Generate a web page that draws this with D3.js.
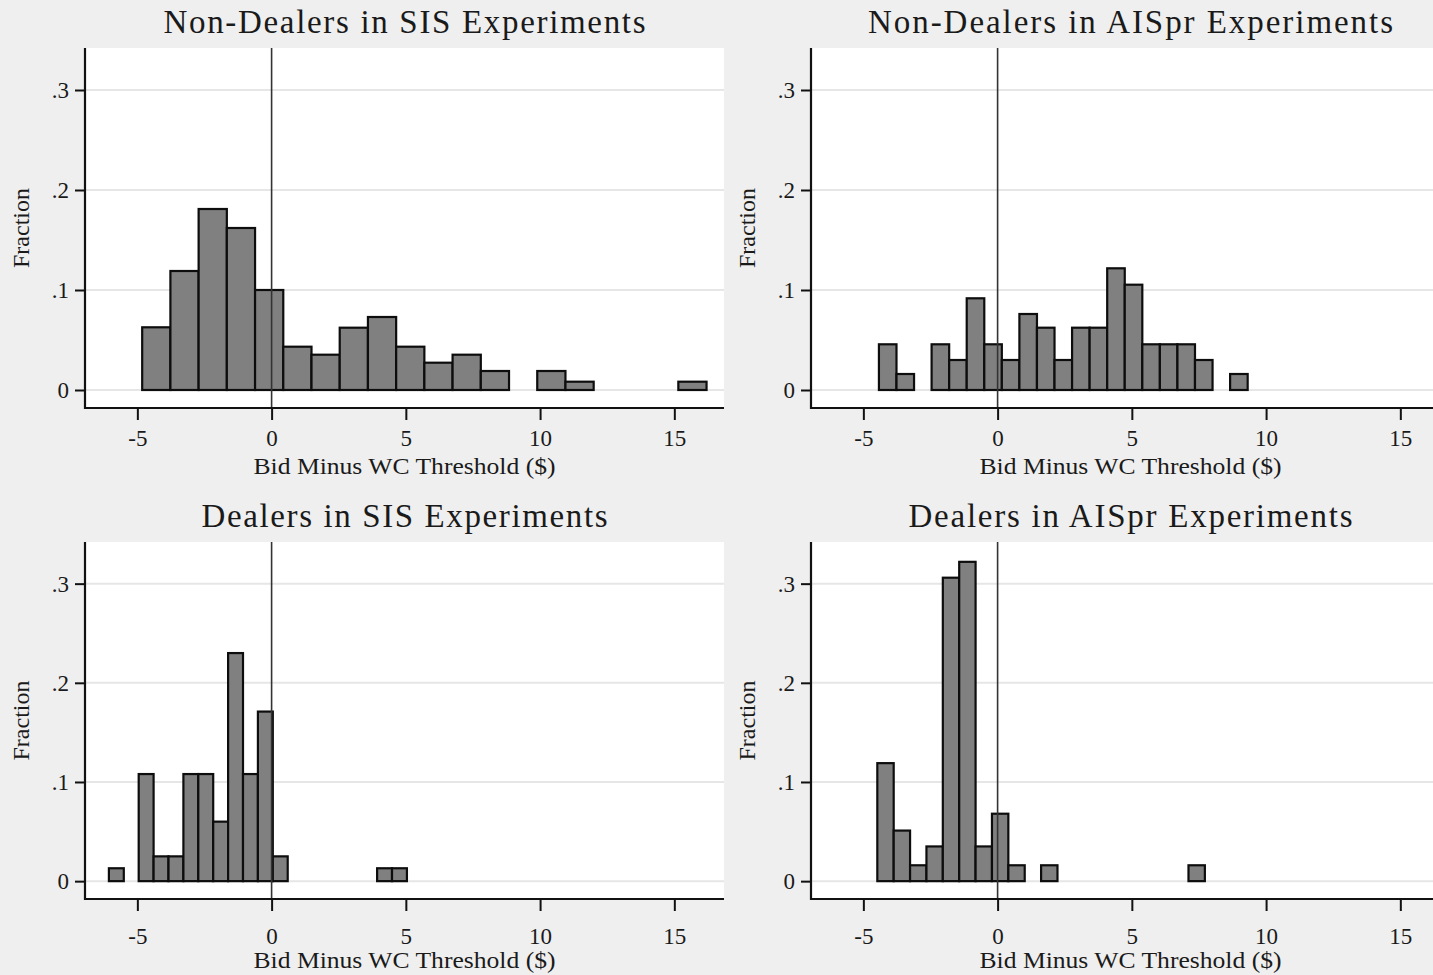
<!DOCTYPE html>
<html>
<head>
<meta charset="utf-8">
<script src="https://cdn.jsdelivr.net/npm/d3@7"></script>
<style>
  body { margin: 0; background: #efefef; }
  svg { display: block; }
  text { font-family: "Liberation Serif", "DejaVu Serif", serif; fill: #1a1a1a; }
</style>
</head>
<body>
<div id="chart"></div>
<script>
// values
var panelTitles = ["Non-Dealers in SIS Experiments", "Non-Dealers in AISpr Experiments",
                   "Dealers in SIS Experiments", "Dealers in AISpr Experiments"];
var xTitle = "Bid Minus WC Threshold ($)";
var yTitle = "Fraction";
var xTicks = [-5, 0, 5, 10, 15];
var yTicks = [0, 0.1, 0.2, 0.3];
var yTickLabels = ["0", ".1", ".2", ".3"];

// bin start, bin width and fraction per bin for each panel
var ndSisStart = -4.82, ndSisWidth = 1.051;
var ndSisFrac = [0.0627, 0.119, 0.181, 0.162, 0.100, 0.0433, 0.0353, 0.0623, 0.073, 0.0433,
                 0.0273, 0.0353, 0.019, 0, 0.019, 0.0083, 0, 0, 0, 0.0083];

var ndAisStart = -4.42, ndAisWidth = 0.654;
var ndAisFrac = [0.0457, 0.016, 0, 0.0457, 0.030, 0.0917, 0.0457, 0.030, 0.076, 0.0623, 0.030,
                 0.0623, 0.0623, 0.1217, 0.1053, 0.0457, 0.0457, 0.0457, 0.030, 0, 0.016];

var dSisStart = -6.06, dSisWidth = 0.555;
var dSisFrac = [0.013, 0, 0.108, 0.025, 0.025, 0.108, 0.108, 0.060, 0.230, 0.108,
                0.171, 0.025, 0, 0, 0, 0, 0, 0, 0.013, 0.013];

var dAisStart = -4.48, dAisWidth = 0.61;
var dAisFrac = [0.119, 0.051, 0.016, 0.035, 0.306, 0.322, 0.035, 0.068, 0.016, 0,
                0.016, 0, 0, 0, 0, 0, 0, 0, 0, 0.016];

var w = 1433, h = 975;
var svg = d3.select("#chart").append("svg").attr("width", w).attr("height", h);

// layout of the four panels
var cols = [85, 811];
var plotW = 639;
var rows = [{top: 48, axis: 408, titleY: 33, tickDy: 38, labDy: 66},
            {top: 542, axis: 899, titleY: 527, tickDy: 45, labDy: 69}];
var titleLens = [482, 525, 406, 444];

var panels = [
  {start: ndSisStart, width: ndSisWidth, frac: ndSisFrac},
  {start: ndAisStart, width: ndAisWidth, frac: ndAisFrac},
  {start: dSisStart, width: dSisWidth, frac: dSisFrac},
  {start: dAisStart, width: dAisWidth, frac: dAisFrac}
];

panels.forEach(function(p, i) {
  var left = cols[i % 2];
  var row = rows[Math.floor(i / 2)];

  var x = d3.scaleLinear().domain([-6.95, 16.85]).range([left, left + plotW]);
  var y = d3.scaleLinear().domain([-0.018, 0.342]).range([row.axis, row.top]);

  var g = svg.append("g");

  g.append("rect")
    .attr("x", left).attr("y", row.top)
    .attr("width", plotW).attr("height", row.axis - row.top)
    .attr("fill", "#fff");

  // grid
  g.selectAll(".grid")
    .data(yTicks)
    .enter()
    .append("line")
    .attr("x1", left).attr("x2", left + plotW)
    .attr("y1", function(d) { return y(d); })
    .attr("y2", function(d) { return y(d); })
    .attr("stroke", "#e6e6e6")
    .attr("stroke-width", 2);

  var bins = p.frac.map(function(f, k) {
    return {x0: p.start + k * p.width, x1: p.start + (k + 1) * p.width, f: f};
  }).filter(function(b) { return b.f > 0; });

  g.selectAll(".bar")
    .data(bins)
    .enter()
    .append("rect")
    .attr("x", function(d) { return x(d.x0); })
    .attr("y", function(d) { return y(d.f); })
    .attr("width", function(d) { return x(d.x1) - x(d.x0); })
    .attr("height", function(d) { return y(0) - y(d.f); })
    .attr("fill", "#808080")
    .attr("stroke", "#0d0d0d")
    .attr("stroke-width", 2.2);

  // reference line at zero
  g.append("line")
    .attr("x1", x(0)).attr("x2", x(0))
    .attr("y1", row.top).attr("y2", row.axis)
    .attr("stroke", "#333")
    .attr("stroke-width", 1.6);

  // axes
  var xAxis = d3.axisBottom(x).tickValues(xTicks).tickSize(12).tickPadding(0)
                .tickFormat(function(d) { return String(d); });
  var gx = g.append("g").attr("transform", "translate(0," + row.axis + ")").call(xAxis);
  gx.select(".domain").remove();
  gx.selectAll("line").attr("stroke", "#111").attr("stroke-width", 2);
  gx.selectAll("text").attr("dy", null).attr("y", row.tickDy)
    .style("font-size", "23px").attr("fill", "#1a1a1a");

  var yAxis = d3.axisLeft(y).tickValues(yTicks).tickSize(10).tickPadding(6)
                .tickFormat(function(d, k) { return yTickLabels[k]; });
  var gy = g.append("g").attr("transform", "translate(" + left + ",0)").call(yAxis);
  gy.select(".domain").remove();
  gy.selectAll("line").attr("stroke", "#111").attr("stroke-width", 2);
  gy.selectAll("text").style("font-size", "23px").attr("fill", "#1a1a1a");

  g.append("line")
    .attr("x1", left).attr("x2", left + plotW)
    .attr("y1", row.axis).attr("y2", row.axis)
    .attr("stroke", "#111").attr("stroke-width", 2.2);
  g.append("line")
    .attr("x1", left).attr("x2", left)
    .attr("y1", row.top).attr("y2", row.axis + 1)
    .attr("stroke", "#111").attr("stroke-width", 2.2);

  // titles
  var cx = left + plotW / 2;
  g.append("text")
    .attr("x", cx).attr("y", row.titleY)
    .attr("text-anchor", "middle")
    .attr("textLength", titleLens[i]).attr("lengthAdjust", "spacing")
    .style("font-size", "33px")
    .text(panelTitles[i]);

  g.append("text")
    .attr("x", cx).attr("y", row.axis + row.labDy)
    .attr("text-anchor", "middle")
    .attr("textLength", 302).attr("lengthAdjust", "spacingAndGlyphs")
    .style("font-size", "24px")
    .text(xTitle);

  g.append("text")
    .attr("transform", "translate(" + (left - 56) + "," + ((row.top + row.axis) / 2) + ") rotate(-90)")
    .attr("text-anchor", "middle")
    .attr("textLength", 80).attr("lengthAdjust", "spacingAndGlyphs")
    .style("font-size", "24px")
    .text(yTitle);
});
</script>
</body>
</html>
